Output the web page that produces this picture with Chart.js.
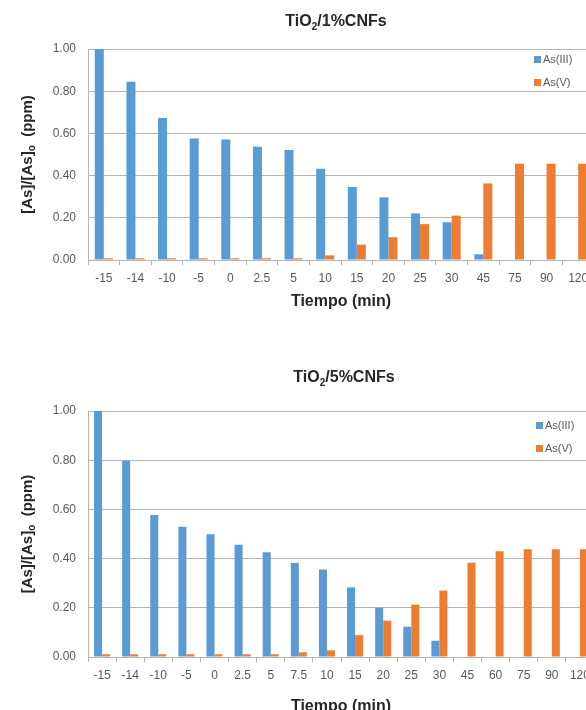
<!DOCTYPE html>
<html>
<head>
<meta charset="utf-8">
<script src="https://cdn.jsdelivr.net/npm/chart.js@4.4.1/dist/chart.umd.min.js"></script>
<style>
  html, body { margin: 0; padding: 0; background: #fff; overflow: hidden; width: 586px; height: 710px; }
  .box { position: absolute; left: 0; width: 600px; }
  #box1 { top: 0; height: 330px; }
  #box2 { top: 356px; height: 371px; }
</style>
</head>
<body>
<div class="box" id="box1"><canvas id="chart1"></canvas></div>
<div class="box" id="box2"><canvas id="chart2"></canvas></div>
<script>
// ---- data ----
const times1 = ['-15', '-14', '-10', '-5', '0', '2.5', '5', '10', '15', '20', '25', '30', '45', '75', '90', '120'];
const as3_1 = [1.00, 0.845, 0.673, 0.576, 0.571, 0.537, 0.521, 0.433, 0.346, 0.297, 0.221, 0.179, 0.027, 0, 0, 0];
const as5_1 = [0.008, 0.008, 0.008, 0.008, 0.008, 0.008, 0.008, 0.022, 0.073, 0.108, 0.170, 0.210, 0.363, 0.456, 0.456, 0.456];

const times2 = ['-15', '-14', '-10', '-5', '0', '2.5', '5', '7.5', '10', '15', '20', '25', '30', '45', '60', '75', '90', '120'];
const as3_2 = [1.00, 0.797, 0.577, 0.529, 0.499, 0.456, 0.426, 0.382, 0.356, 0.283, 0.200, 0.123, 0.066, 0, 0, 0, 0, 0];
const as5_2 = [0.011, 0.011, 0.011, 0.011, 0.011, 0.011, 0.011, 0.019, 0.027, 0.089, 0.148, 0.213, 0.270, 0.383, 0.430, 0.438, 0.438, 0.438];

const yTicks = [0, 0.2, 0.4, 0.6, 0.8, 1.0];

const BLUE = '#5B9BD5';
const ORANGE = '#ED7D31';
const GRID = '#b4b4b4';
const FONT = '"Liberation Sans", Arial, sans-serif';

// draws text made of [text, isSubscript] pieces, centred on x
function drawRich(ctx, parts, x, y, size) {
    const fontOf = sub => `bold ${sub ? Math.round(size * 0.65) : size}px ${FONT}`;
    let total = 0;
    parts.forEach(([t, sub]) => { ctx.font = fontOf(sub); total += ctx.measureText(t).width; });
    let cx = x - total / 2;
    ctx.textAlign = 'left';
    ctx.textBaseline = 'middle';
    parts.forEach(([t, sub]) => {
        ctx.font = fontOf(sub);
        ctx.fillText(t, cx, y + (sub ? size * 0.3 : 0));
        cx += ctx.measureText(t).width;
    });
}

// title, y-axis title and the in-plot legend, like the Excel original
const excelDecor = {
    id: 'excelDecor',
    afterDraw(chart, args, opts) {
        const ctx = chart.ctx;
        const area = chart.chartArea;
        ctx.save();
        ctx.fillStyle = '#262626';
        drawRich(ctx, opts.title, opts.titleX, opts.titleY, 16);

        ctx.translate(28, (area.top + area.bottom) / 2);
        ctx.rotate(-Math.PI / 2);
        drawRich(ctx, [['[As]/[As]', false], ['o', true], ['  (ppm)', false]], 0, 0, 15);
        ctx.restore();

        ctx.save();
        ctx.font = `11px ${FONT}`;
        ctx.textAlign = 'left';
        ctx.textBaseline = 'middle';
        chart.data.datasets.forEach((ds, i) => {
            const y = area.top + opts.legendY + i * 23;
            ctx.fillStyle = ds.backgroundColor;
            ctx.fillRect(opts.legendX, y - 4, 7, 7);
            ctx.fillStyle = '#595959';
            ctx.fillText(ds.label, opts.legendX + 9, y);
        });
        ctx.restore();
    }
};

function makeChart(id, labels, s3, s5, padTop, axisH, title, titleX, legendX, legendY) {
    const ctx = document.getElementById(id).getContext('2d');
    return new Chart(ctx, {
        type: 'bar',
        data: {
            labels: labels,
            datasets: [
                { label: 'As(III)', data: s3, backgroundColor: BLUE },
                { label: 'As(V)', data: s5, backgroundColor: ORANGE }
            ]
        },
        options: {
            responsive: true,
            maintainAspectRatio: false,
            animation: false,
            layout: { padding: { top: padTop, right: 6, left: 0, bottom: 70 - axisH } },
            datasets: { bar: { categoryPercentage: 0.57, barPercentage: 1.0 } },
            plugins: {
                legend: { display: false },
                tooltip: { enabled: false },
                excelDecor: { title: title, titleX: titleX, titleY: 22, legendX: legendX, legendY: legendY }
            },
            scales: {
                x: {
                    offset: true,
                    grid: { offset: true, drawOnChartArea: false, drawTicks: true, tickLength: 5, color: GRID },
                    border: { color: GRID },
                    ticks: { color: '#595959', font: { family: FONT, size: 12 }, padding: 6, maxRotation: 0, autoSkip: false },
                    title: { display: true, text: 'Tiempo (min)', color: '#262626', font: { family: FONT, size: 16, weight: 'bold' }, padding: { top: 4, bottom: 0 } },
                    afterFit(scale) { scale.height = axisH; }
                },
                y: {
                    min: 0,
                    max: 1,
                    afterBuildTicks(scale) { scale.ticks = yTicks.map(v => ({ value: v })); },
                    grid: { color: GRID, drawTicks: false },
                    border: { color: GRID },
                    ticks: { color: '#595959', font: { family: FONT, size: 12 }, padding: 12, callback: v => Number(v).toFixed(2) },
                    afterFit(scale) { scale.width = 88; }
                }
            }
        },
        plugins: [excelDecor]
    });
}

makeChart('chart1', times1, as3_1, as5_1, 49, 51, [['TiO', false], ['2', true], ['/1%CNFs', false]], 336, 534, 11);
makeChart('chart2', times2, as3_2, as5_2, 55, 59, [['TiO', false], ['2', true], ['/5%CNFs', false]], 344, 536, 15);
</script>
</body>
</html>
